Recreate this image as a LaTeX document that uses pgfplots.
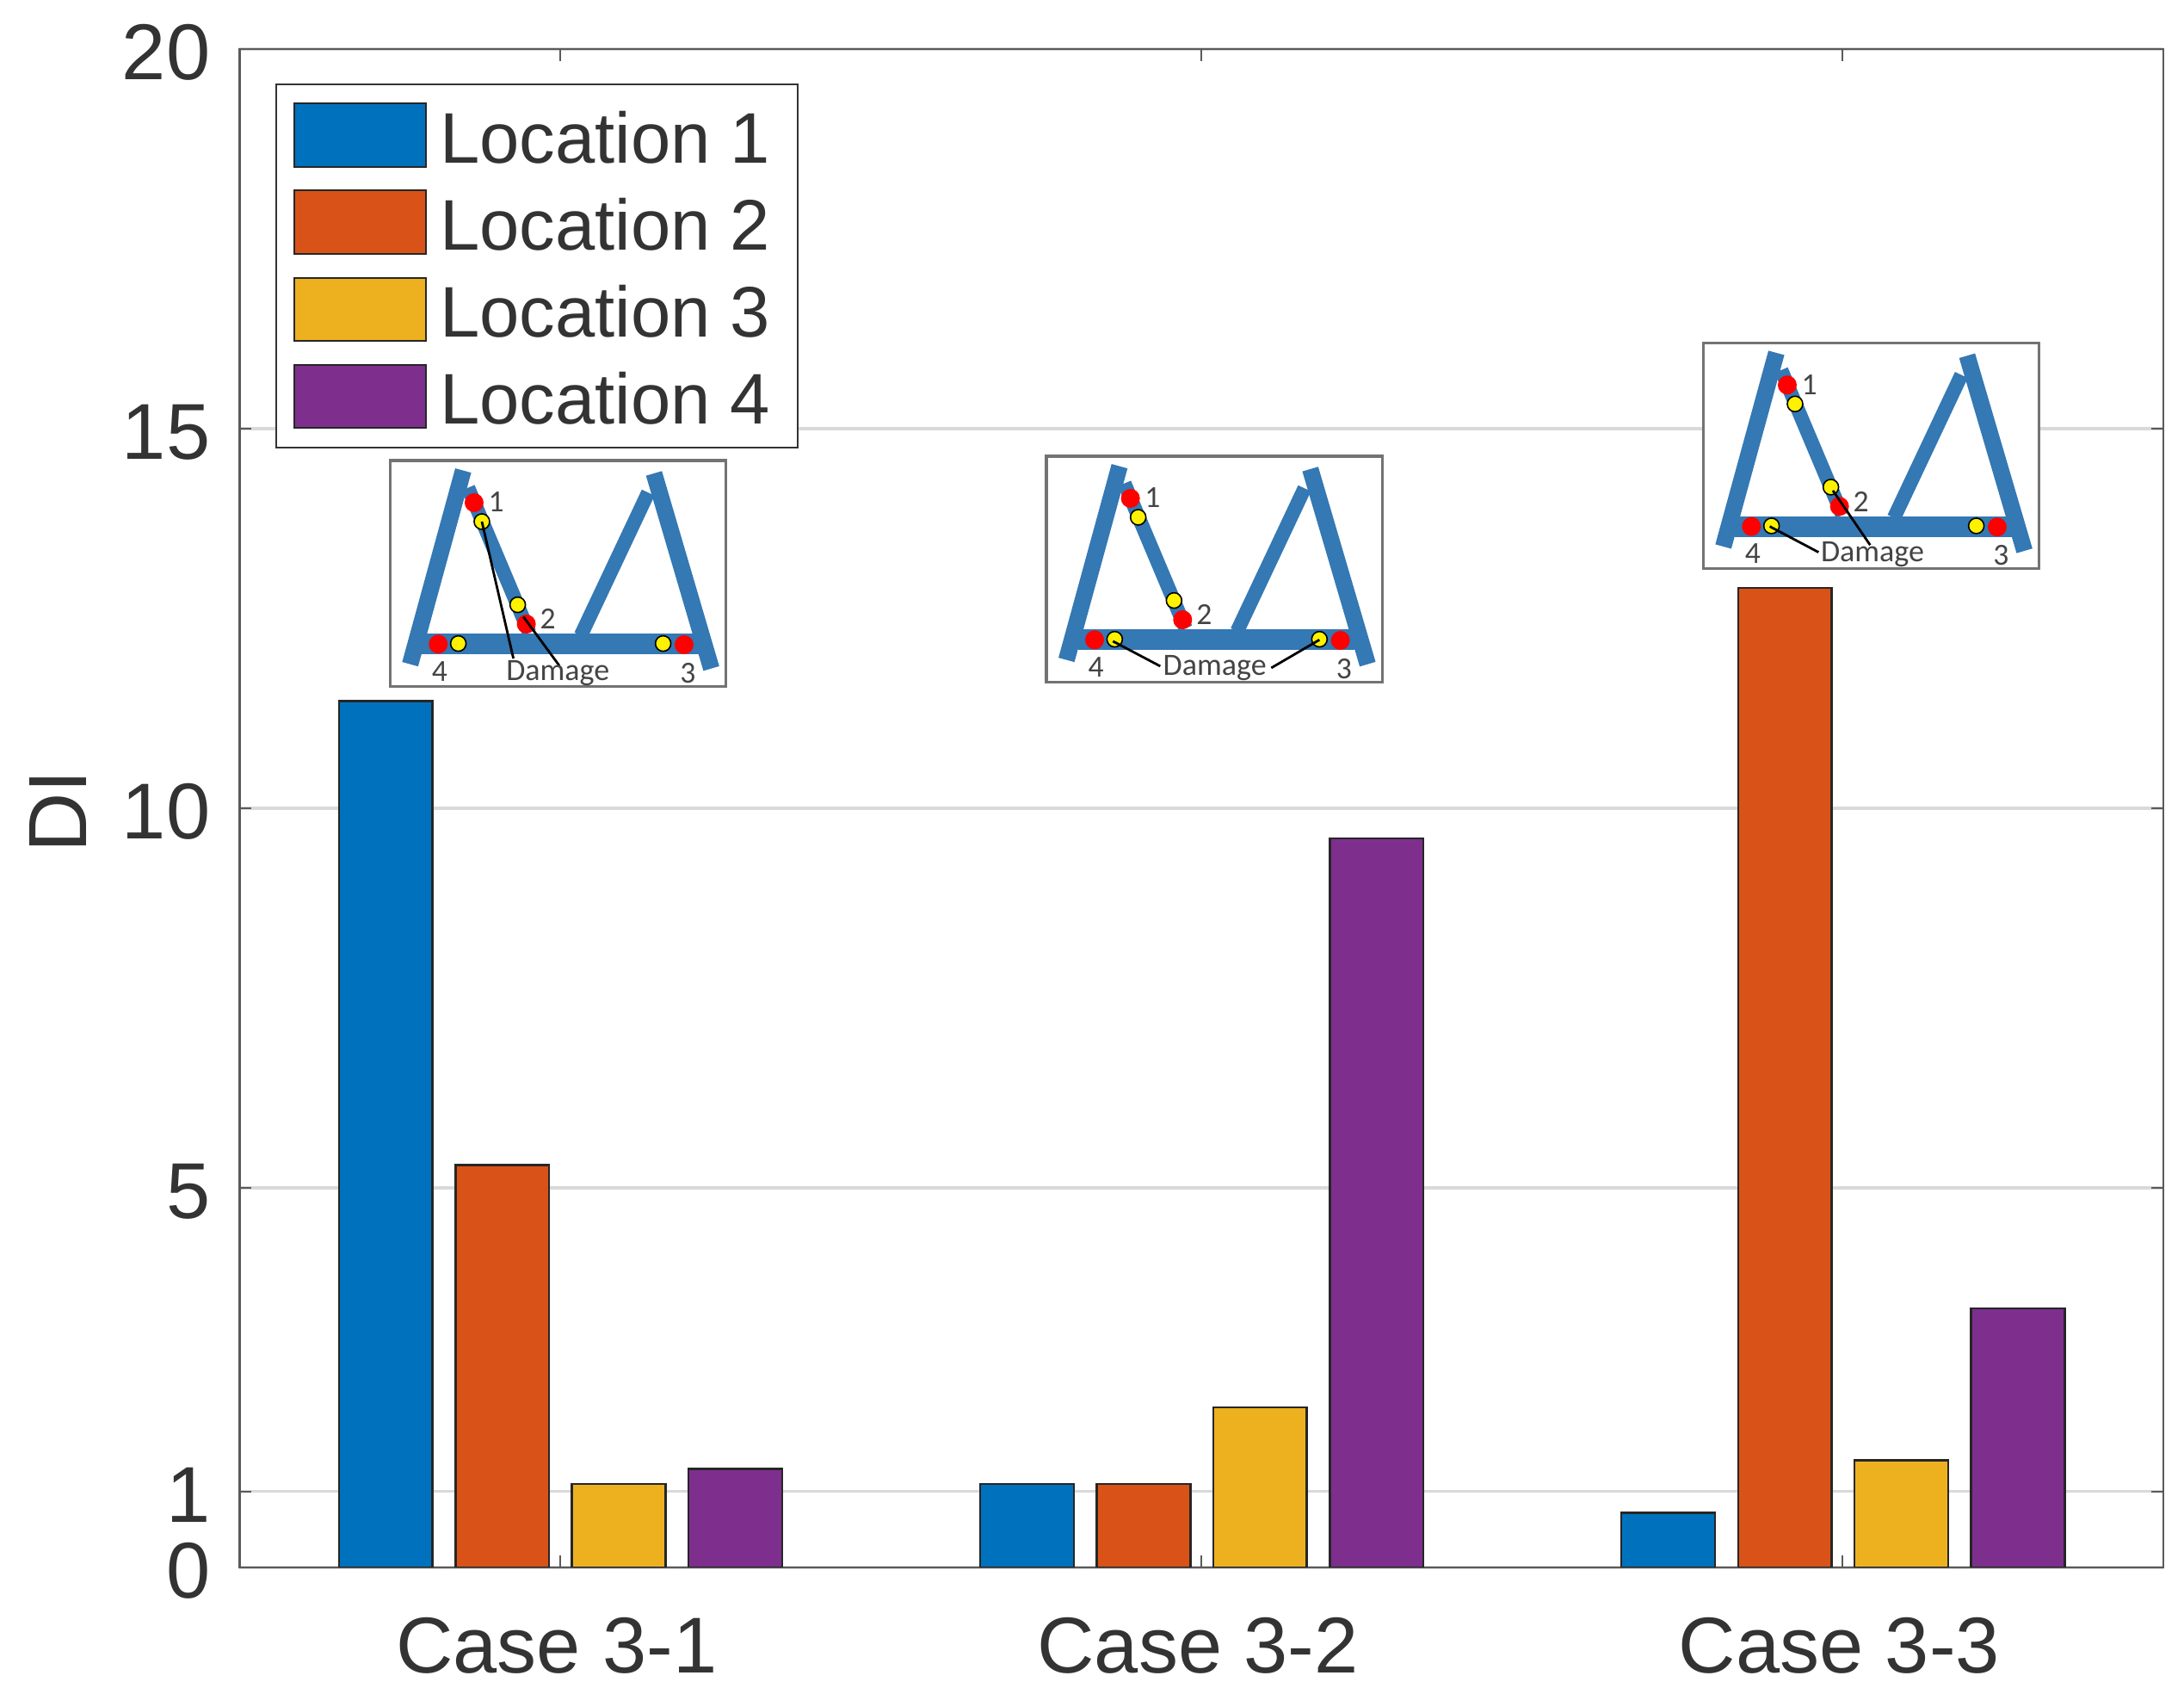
\documentclass[border=0pt]{standalone}
\usepackage{pgfplots}
\pgfplotsset{compat=1.18}
\usepackage{fontspec}
\setmainfont{Liberation Sans}
\newfontfamily\carlito{Carlito}
\definecolor{mblue}{HTML}{0072BD}
\definecolor{morange}{HTML}{D95319}
\definecolor{myellow}{HTML}{EDB120}
\definecolor{mpurple}{HTML}{7E2F8E}
\definecolor{axisgray}{HTML}{5A5A5A}
\definecolor{txt}{HTML}{333333}
\definecolor{frameblue}{HTML}{3478B4}
\definecolor{insettxt}{HTML}{444444}
\newcommand{\frameinset}[3]{%
\begin{scope}[shift={({#1*0.25pt},{(1968-#2)*0.25pt})},x=0.08333pt,y=-0.08333pt]
\draw[draw=black!55,line width=0.8pt,fill=white] (0,0) rectangle (1171,787);
\draw[frameblue,line width=4.1pt] (272,95)--(485,600);
\draw[frameblue,line width=4.1pt] (900,112)--(665,610);
\draw[frameblue,line width=6pt] (110,640)--(1075,640);
\draw[frameblue,line width=4.8pt] (255,35)--(70,710);
\draw[frameblue,line width=4.8pt] (920,45)--(1120,725);
\fill[red] (293,147) circle (33);
\fill[red] (475,570) circle (33);
\fill[red] (168,640) circle (33);
\fill[red] (1025,642) circle (33);
\filldraw[fill=yellow,draw=black,line width=0.4pt] (320,213) circle (27);
\filldraw[fill=yellow,draw=black,line width=0.4pt] (445,503) circle (27);
\filldraw[fill=yellow,draw=black,line width=0.4pt] (238,638) circle (27);
\filldraw[fill=yellow,draw=black,line width=0.4pt] (952,638) circle (27);
\node[text=insettxt,inner sep=0pt] at (370,145) {\carlito\fontsize{8.9}{10}\selectfont 1};
\node[text=insettxt,inner sep=0pt] at (550,553) {\carlito\fontsize{8.9}{10}\selectfont 2};
\node[text=insettxt,inner sep=0pt] at (173,735) {\carlito\fontsize{8.9}{10}\selectfont 4};
\node[text=insettxt,inner sep=0pt] at (1038,740) {\carlito\fontsize{8.9}{10}\selectfont 3};
#3
\end{scope}}
\begin{document}
\begin{tikzpicture}
\useasboundingbox (0,0) rectangle (634.5pt,492pt);
\begin{axis}[
  at={(69.6pt,36.75pt)},anchor=south west,
  scale only axis,width=558.9pt,height=441pt,
  xmin=0.5,xmax=3.5,ymin=0,ymax=20,
  xtick={1,2,3},xticklabels={Case 3-1,Case 3-2,Case 3-3},
  ytick={0,1,5,10,15,20},
  tick align=inside,
  major tick length=3.5pt,
  xtick pos=both,ytick pos=both,
  axis line style={draw=axisgray,line width=0.6pt},
  tick style={draw=axisgray,line width=0.5pt},
  ymajorgrids,
  grid style={draw=black!15,line width=0.8pt},
  /pgf/number format/assume math mode=true,
  tick label style={text=txt,font=\fontsize{23}{27}\selectfont},
  xticklabel style={yshift=-11pt,xshift=-1pt},
  yticklabel style={xshift=-5pt,yshift=-1pt},
  ylabel={DI},
  ylabel style={at={(axis description cs:-0.0945,0.498)},anchor=center,text=txt,font=\fontsize{24}{28}\selectfont},
  legend style={at={(rel axis cs:0.0188,0.9773)},anchor=north west,
    draw=txt,line width=0.5pt,fill=white,font=\fontsize{20.8}{24}\selectfont,text=txt,
    inner xsep=4.8pt,inner ysep=5.3pt,row sep=6.4pt,
    nodes={inner sep=0pt,outer sep=0pt,text height=16pt,text depth=0pt,anchor=west}},
  legend cell align=left,
  legend image code/.code={\draw[#1,line width=0.5pt] (0pt,-9.2pt) rectangle (38.4pt,9.2pt);},
]
\addplot[ybar,/pgf/bar width=27.2pt,/pgf/bar shift=-50.7pt,fill=mblue,draw=black!85,line width=0.6pt] coordinates {(1,11.41) (2,1.10) (3,0.72)};
\addlegendentry{\hspace{3.7pt}Location 1\hspace{3.2pt}\mbox{}}
\addplot[ybar,/pgf/bar width=27.2pt,/pgf/bar shift=-16.8pt,fill=morange,draw=black!85,line width=0.6pt] coordinates {(1,5.30) (2,1.10) (3,12.90)};
\addlegendentry{\hspace{3.7pt}Location 2\hspace{3.2pt}\mbox{}}
\addplot[ybar,/pgf/bar width=27.2pt,/pgf/bar shift=17pt,fill=myellow,draw=black!85,line width=0.6pt] coordinates {(1,1.10) (2,2.11) (3,1.41)};
\addlegendentry{\hspace{3.7pt}Location 3\hspace{3.2pt}\mbox{}}
\addplot[ybar,/pgf/bar width=27.2pt,/pgf/bar shift=50.9pt,fill=mpurple,draw=black!85,line width=0.6pt] coordinates {(1,1.30) (2,9.60) (3,3.41)};
\addlegendentry{\hspace{3.7pt}Location 4\hspace{3.2pt}\mbox{}}
\end{axis}
\frameinset{453.3}{535}{%
  \draw[black,line width=0.7pt] (320,213)--(430,690);
  \draw[black,line width=0.7pt] (465,545)--(590,715);
  \node[text=insettxt,inner sep=0pt] at (585,742) {\carlito\fontsize{9}{10}\selectfont Damage};}
\frameinset{1216}{530}{%
  \draw[black,line width=0.7pt] (232,645)--(397,732);
  \draw[black,line width=0.7pt] (952,640)--(784,738);
  \node[text=insettxt,inner sep=0pt] at (587,738) {\carlito\fontsize{9}{10}\selectfont Damage};}
\frameinset{1979.3}{398.3}{%
  \draw[black,line width=0.7pt] (232,640)--(402,730);
  \draw[black,line width=0.7pt] (452,515)--(582,705);
  \node[text=insettxt,inner sep=0pt] at (590,737) {\carlito\fontsize{9}{10}\selectfont Damage};}
\end{tikzpicture}
\end{document}
